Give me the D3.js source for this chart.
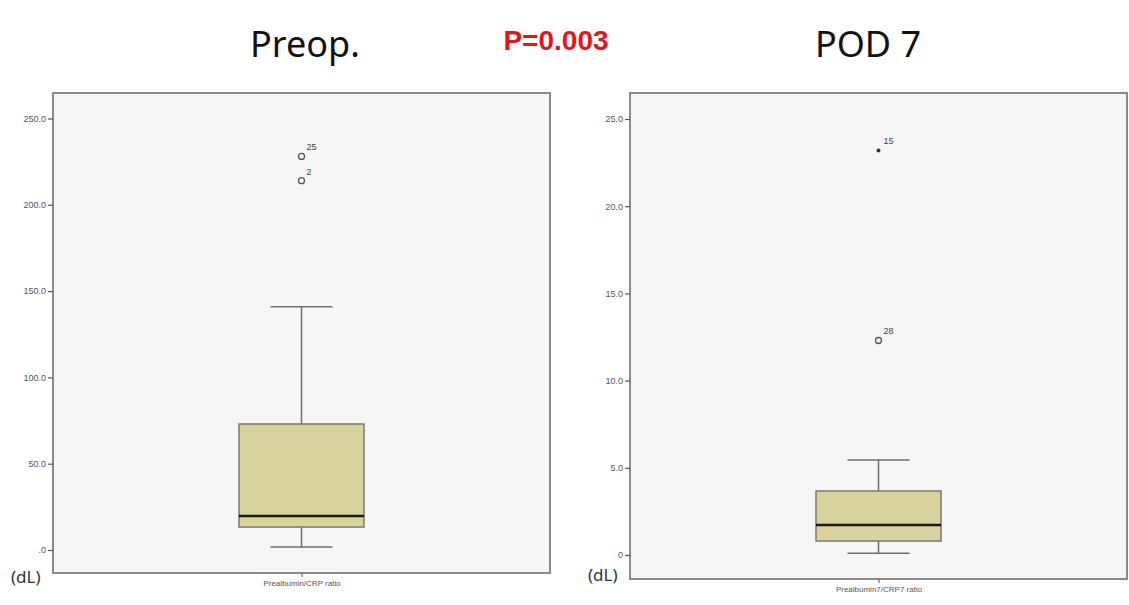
<!DOCTYPE html>
<html>
<head>
<meta charset="utf-8">
<script src="https://cdn.jsdelivr.net/npm/d3@7"></script>
<style>
  body { margin: 0; background: #fff; }
  svg { display: block; }
</style>
</head>
<body>
<svg id="chart" width="1129" height="605"></svg>
<script>
"use strict";

// Panel titles
const titles = ["Preop.", "POD 7"];
const pLabel = "P=0.003";

// Box statistics per panel: [min, q1, median, q3, max]
const preopStats = [1.7, 13.3, 19.7, 73, 141];
const pod7Stats = [0.1, 0.8, 1.72, 3.67, 5.45];

// Outliers: value, case label, type
const preopOutliers = [
  { v: 228, label: "25", type: "circle" },
  { v: 214, label: "2", type: "circle" }
];
const pod7Outliers = [
  { v: 23.2, label: "15", type: "star" },
  { v: 12.3, label: "28", type: "circle" }
];

// Axis ticks and labels
const preopTicks = [0, 50, 100, 150, 200, 250];
const pod7Ticks = [0, 5, 10, 15, 20, 25];
const categories = ["Prealbumin/CRP ratio", "Prealbumin7/CRP7 ratio"];

const svg = d3.select("#chart");

const panels = [
  { title: titles[0], titleX: 305, stats: preopStats, outliers: preopOutliers, ticks: preopTicks,
    fmt: d => d === 0 ? ".0" : d.toFixed(1), cat: categories[0],
    x0: 53, x1: 550, top: 93, bottom: 573, y0: 550, yTop: 118.5, vTop: 250, box: 125, cap: 62, dlY: 583 },
  { title: titles[1], titleX: 868, stats: pod7Stats, outliers: pod7Outliers, ticks: pod7Ticks,
    fmt: d => d === 0 ? "0" : d.toFixed(1), cat: categories[1],
    x0: 630, x1: 1127, top: 93, bottom: 579, y0: 555, yTop: 119, vTop: 25, box: 125, cap: 62, dlY: 581 }
];

panels.forEach(p => {
  const y = d3.scaleLinear().domain([0, p.vTop]).range([p.y0, p.yTop]);
  const x = d3.scalePoint().domain([p.cat]).range([p.x0, p.x1]).padding(0.5);
  const cx = x(p.cat);

  // title
  svg.append("text")
    .attr("x", p.titleX).attr("y", 57)
    .attr("text-anchor", "middle")
    .style("font-family", "'Noto Sans', Arial, sans-serif")
    .style("font-size", "36px")
    .style("fill", "#111")
    .text(p.title);

  // plot background
  svg.append("rect")
    .attr("x", p.x0).attr("y", p.top)
    .attr("width", p.x1 - p.x0).attr("height", p.bottom - p.top)
    .attr("fill", "#f6f6f6")
    .attr("stroke", "#8a8a8a")
    .attr("stroke-width", 2);

  // y axis
  const yAxis = d3.axisLeft(y).tickValues(p.ticks).tickFormat(p.fmt).tickSize(5).tickPadding(2);
  const gy = svg.append("g").attr("transform", `translate(${p.x0},0)`).call(yAxis);
  gy.select(".domain").remove();
  gy.selectAll("line").attr("stroke", "#555").attr("stroke-width", 1.2);
  gy.selectAll("text")
    .style("font-family", "Arial, sans-serif")
    .style("font-size", "9px")
    .style("fill", "#555");

  // x axis
  const xAxis = d3.axisBottom(x).tickSize(4).tickPadding(3);
  const gx = svg.append("g").attr("transform", `translate(0,${p.bottom})`).call(xAxis);
  gx.select(".domain").remove();
  gx.selectAll("line").attr("stroke", "#555");
  gx.selectAll("text")
    .style("font-family", "Arial, sans-serif")
    .style("font-size", "8px")
    .style("fill", "#555");

  // (dL) label
  svg.append("text")
    .attr("x", p.x0 - 42).attr("y", p.dlY)
    .style("font-family", "'Noto Sans', Arial, sans-serif")
    .style("font-size", "17px")
    .style("fill", "#333")
    .text("(dL)");

  const [mn, q1, med, q3, mx] = p.stats;
  const stroke = "#6e6e6e";

  // whiskers
  svg.append("line").attr("x1", cx).attr("x2", cx).attr("y1", y(mx)).attr("y2", y(q3))
    .attr("stroke", stroke).attr("stroke-width", 1.5);
  svg.append("line").attr("x1", cx).attr("x2", cx).attr("y1", y(q1)).attr("y2", y(mn))
    .attr("stroke", stroke).attr("stroke-width", 1.5);
  [mn, mx].forEach(v => {
    svg.append("line").attr("x1", cx - p.cap / 2).attr("x2", cx + p.cap / 2)
      .attr("y1", y(v)).attr("y2", y(v))
      .attr("stroke", stroke).attr("stroke-width", 1.5);
  });

  // box
  svg.append("rect")
    .attr("x", cx - p.box / 2).attr("y", y(q3))
    .attr("width", p.box).attr("height", y(q1) - y(q3))
    .attr("fill", "#d8d39e")
    .attr("stroke", "#7a7a6e").attr("stroke-width", 1.5);
  svg.append("line")
    .attr("x1", cx - p.box / 2).attr("x2", cx + p.box / 2)
    .attr("y1", y(med)).attr("y2", y(med))
    .attr("stroke", "#1a1a10").attr("stroke-width", 2.5);

  // outliers
  p.outliers.forEach(o => {
    if (o.type === "circle") {
      svg.append("circle").attr("cx", cx).attr("cy", y(o.v)).attr("r", 3)
        .attr("fill", "none").attr("stroke", "#555").attr("stroke-width", 1.3);
    } else {
      svg.append("circle").attr("cx", cx).attr("cy", y(o.v)).attr("r", 2)
        .attr("fill", "#333");
    }
    svg.append("text")
      .attr("x", cx + 5).attr("y", y(o.v) - 6)
      .style("font-family", "Arial, sans-serif")
      .style("font-size", "9px")
      .style("fill", "#444")
      .text(o.label);
  });
});

// p-value
svg.append("text")
  .attr("x", 556).attr("y", 50)
  .attr("text-anchor", "middle")
  .style("font-family", "Arial, sans-serif")
  .style("font-weight", "bold")
  .style("font-size", "28px")
  .style("fill", "#e8141c")
  .text(pLabel);
</script>
</body>
</html>
